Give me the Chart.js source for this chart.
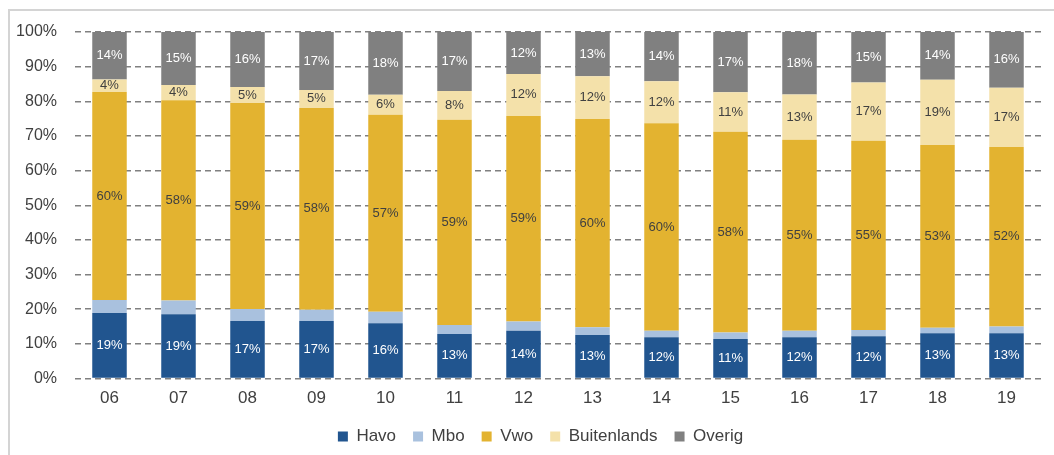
<!DOCTYPE html>
<html>
<head>
<meta charset="utf-8">
<script src="https://cdn.jsdelivr.net/npm/chart.js@4/dist/chart.umd.min.js"></script>
<style>
  html, body { margin: 0; padding: 0; background: #fff; overflow: hidden; }
  #frame { position: absolute; left: 8px; top: 9px; width: 1100px; height: 500px;
           border-left: 2px solid #d4d4d4; border-top: 2px solid #d4d4d4; }
  #wrap { position: absolute; left: 0; top: 0; width: 1054px; height: 455px; }
</style>
</head>
<body>
<div id="frame"></div>
<div id="wrap"><canvas id="myChart" width="1054" height="455"></canvas></div>
<script>
// years (20xx)
const years = ['06', '07', '08', '09', '10', '11', '12', '13', '14', '15', '16', '17', '18', '19'];

// shares in % per year
const havo        = [18.9, 18.6, 16.6, 16.6, 16.0, 12.9, 13.8, 12.6, 11.9, 11.4, 11.9, 12.2, 13.1, 13.1];
const mbo         = [ 3.8,  3.9,  3.5,  3.3,  3.3,  2.6,  2.7,  2.2,  1.9,  1.9,  1.9,  1.8,  1.6,  1.9];
const vwo         = [60.0, 57.8, 59.4, 58.2, 56.8, 59.2, 59.3, 60.1, 59.9, 57.9, 55.1, 54.6, 52.7, 51.8];
const buitenlands = [ 3.6,  4.4,  4.6,  5.2,  5.8,  8.3, 12.1, 12.3, 12.1, 11.4, 13.1, 16.8, 18.8, 17.1];
const overig      = [13.7, 15.3, 15.9, 16.7, 18.1, 17.0, 12.1, 12.8, 14.2, 17.4, 18.0, 14.6, 13.8, 16.1];

const yTicks = [0, 10, 20, 30, 40, 50, 60, 70, 80, 90, 100];

const FONT = '"Liberation Sans", Arial, sans-serif';
const TEXT = '#404040';

// labels in the middle of each segment
const segLabels = {
  id: 'segLabels',
  afterDatasetsDraw(chart) {
    const ctx = chart.ctx;
    ctx.save();
    ctx.font = '13px ' + FONT;
    ctx.textAlign = 'center';
    ctx.textBaseline = 'middle';
    chart.data.datasets.forEach((ds, i) => {
      if (!ds.labelColor) return;
      chart.getDatasetMeta(i).data.forEach((bar, j) => {
        const p = bar.getCenterPoint();
        ctx.fillStyle = ds.labelColor;
        ctx.fillText(Math.round(ds.data[j]) + '%', p.x, p.y);
      });
    });
    ctx.restore();
  }
};

// legend sits a bit right of centre in the original
const legendShift = {
  id: 'legendShift',
  afterLayout(chart) {
    chart.legend.left += 20;
    chart.legend.right += 20;
  }
};

const ctx = document.getElementById('myChart');
new Chart(ctx, {
  type: 'bar',
  data: {
    labels: years,
    datasets: [
      { label: 'Havo', data: havo, backgroundColor: '#21558F', labelColor: '#ffffff' },
      { label: 'Mbo', data: mbo, backgroundColor: '#A9C1DE' },
      { label: 'Vwo', data: vwo, backgroundColor: '#E3B330', labelColor: TEXT },
      { label: 'Buitenlands', data: buitenlands, backgroundColor: '#F4E1AA', labelColor: TEXT },
      { label: 'Overig', data: overig, backgroundColor: '#808080', labelColor: '#ffffff' }
    ]
  },
  options: {
    responsive: false,
    animation: false,
    events: [],
    datasets: { bar: { categoryPercentage: 1, barPercentage: 0.5 } },
    layout: { padding: { top: 32, right: 13, bottom: 0, left: 0 } },
    plugins: {
      tooltip: { enabled: false },
      legend: {
        position: 'bottom',
        labels: {
          font: { family: FONT, size: 17 },
          color: TEXT,
          boxWidth: 10,
          boxHeight: 10,
          padding: 17
        }
      }
    },
    scales: {
      x: {
        stacked: true,
        grid: { display: false },
        border: { display: false },
        ticks: { color: TEXT, font: { family: FONT, size: 17 }, padding: 2 }
      },
      y: {
        stacked: true,
        min: 0,
        max: 100,
        afterFit(scale) { scale.width = 75; },
        afterBuildTicks(scale) { scale.ticks = yTicks.map(v => ({ value: v })); },
        border: { display: false, dash: [6, 4] },
        grid: { color: '#808080', lineWidth: 1.6, drawTicks: false },
        ticks: {
          color: TEXT,
          font: { family: FONT, size: 16 },
          padding: 18,
          callback: v => v + '%'
        }
      }
    }
  },
  plugins: [segLabels, legendShift]
});
</script>
</body>
</html>
